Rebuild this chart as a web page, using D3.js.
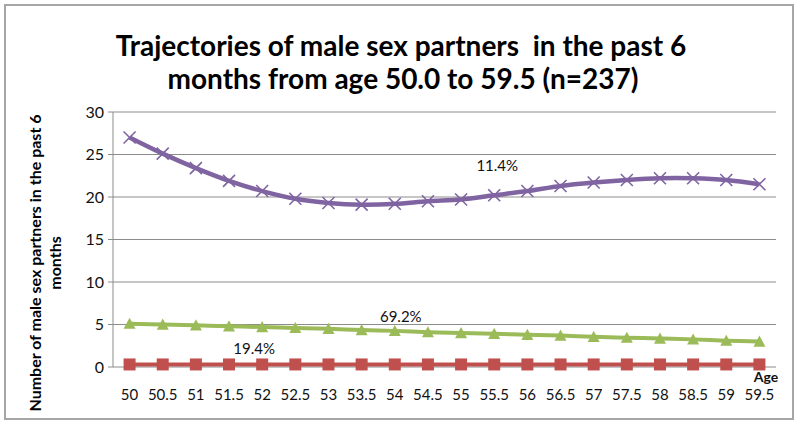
<!DOCTYPE html>
<html><head><meta charset="utf-8">
<script src="https://cdn.jsdelivr.net/npm/d3@7"></script>
<style>body{margin:0;background:#fff;}svg{display:block;font-family:Lato,"Open Sans",sans-serif;}</style>
</head><body>
<svg id="c" width="800" height="428"></svg>
<script>
const ages = ["50","50.5","51","51.5","52","52.5","53","53.5","54","54.5","55","55.5","56","56.5","57","57.5","58","58.5","59","59.5"];
const highSeries = [27.0,25.1,23.4,21.9,20.7,19.8,19.3,19.1,19.2,19.5,19.7,20.2,20.7,21.3,21.7,22.0,22.2,22.2,22.0,21.5];
const midSeries = [5.1,5.0,4.9,4.8,4.7,4.6,4.5,4.35,4.25,4.1,4.0,3.9,3.8,3.7,3.55,3.45,3.35,3.25,3.1,3.0];
const lowSeries = [0.3,0.3,0.3,0.3,0.3,0.3,0.3,0.3,0.3,0.3,0.3,0.3,0.3,0.3,0.3,0.3,0.3,0.3,0.3,0.3];
const yTicks = [0,5,10,15,20,25,30];
const seriesLabels = ["11.4%","69.2%","19.4%"];

const svg = d3.select("#c");
svg.append("rect").attr("x",5).attr("y",5).attr("width",788).attr("height",414)
  .attr("fill","#fff").attr("stroke","#a6a6a6").attr("stroke-width",2);

const L=113, R=776, T=112, B=367;
const x = d3.scaleBand().domain(ages).range([L,R]);
const y = d3.scaleLinear().domain([0,30]).range([B,T]);
const cx = d => x(d)+x.bandwidth()/2;

// gridlines
svg.append("g").selectAll("line").data(yTicks).join("line")
  .attr("x1",L-5).attr("x2",R).attr("y1",d=>y(d)).attr("y2",d=>y(d))
  .attr("stroke","#8c8c8c").attr("stroke-width",1);
svg.append("line").attr("x1",L).attr("x2",L).attr("y1",T).attr("y2",B).attr("stroke","#8c8c8c");

// y labels
svg.append("g").selectAll("text").data(yTicks).join("text")
  .attr("x",L-9).attr("y",d=>y(d)+5.5).attr("text-anchor","end")
  .attr("font-size",16).attr("fill","#111").text(d=>d);
// x labels
svg.append("g").selectAll("text").data(ages).join("text")
  .attr("x",d=>cx(d)).attr("y",400).attr("text-anchor","middle")
  .attr("font-size",15).attr("fill","#111").text(d=>d);
svg.append("text").attr("x",766).attr("y",382).attr("text-anchor","middle")
  .attr("font-size",14).attr("font-weight","bold").attr("fill","#111").text("Age");

const line = d3.line().x((d,i)=>cx(ages[i])).y(d=>y(d)).curve(d3.curveCatmullRom.alpha(0.5));

// low series (red)
svg.append("path").datum(lowSeries).attr("d",line).attr("fill","none").attr("stroke","#c0504d").attr("stroke-width",4);
svg.append("g").selectAll("rect").data(lowSeries).join("rect")
  .attr("x",(d,i)=>cx(ages[i])-6).attr("y",d=>y(d)-6).attr("width",12).attr("height",12).attr("fill","#c0504d");

// mid series (green)
svg.append("path").datum(midSeries).attr("d",line).attr("fill","none").attr("stroke","#9bbb59").attr("stroke-width",4);
svg.append("g").selectAll("path").data(midSeries).join("path")
  .attr("transform",(d,i)=>`translate(${cx(ages[i])},${y(d)})`)
  .attr("d","M0,-6L6,5.2L-6,5.2Z").attr("fill","#9bbb59");

// high series (purple)
svg.append("path").datum(highSeries).attr("d",line).attr("fill","none").attr("stroke","#8064a2").attr("stroke-width",4.5);
svg.append("g").selectAll("path").data(highSeries).join("path")
  .attr("transform",(d,i)=>`translate(${cx(ages[i])},${y(d)})`)
  .attr("d","M-6,-6L6,6M-6,6L6,-6").attr("stroke","#8064a2").attr("stroke-width",1.6).attr("fill","none");

// series labels
svg.append("text").attr("x",cx("55.5")+3).attr("y",171).attr("text-anchor","middle").attr("font-size",15).attr("fill","#111").text(seriesLabels[0]);
svg.append("text").attr("x",cx("54")+6).attr("y",322).attr("text-anchor","middle").attr("font-size",15).attr("fill","#111").text(seriesLabels[1]);
svg.append("text").attr("x",cx("52")-8).attr("y",354).attr("text-anchor","middle").attr("font-size",15).attr("fill","#111").text(seriesLabels[2]);

// title
const title = svg.append("text").attr("text-anchor","middle").attr("font-size",28).attr("font-weight","bold").attr("fill","#000");
title.append("tspan").attr("x",401).attr("y",56).attr("xml:space","preserve").text("Trajectories of male sex partners  in the past 6");
title.append("tspan").attr("x",403).attr("y",89).text("months from age 50.0 to 59.5 (n=237)");

// y axis title
const yt = svg.append("text").attr("transform","translate(0,263) rotate(-90)").attr("text-anchor","middle")
  .attr("font-size",16).attr("font-weight","bold").attr("fill","#000");
yt.append("tspan").attr("x",0).attr("y",41).text("Number of male sex partners in the past 6");
yt.append("tspan").attr("x",0).attr("y",61).text("months");
</script>
</body></html>
